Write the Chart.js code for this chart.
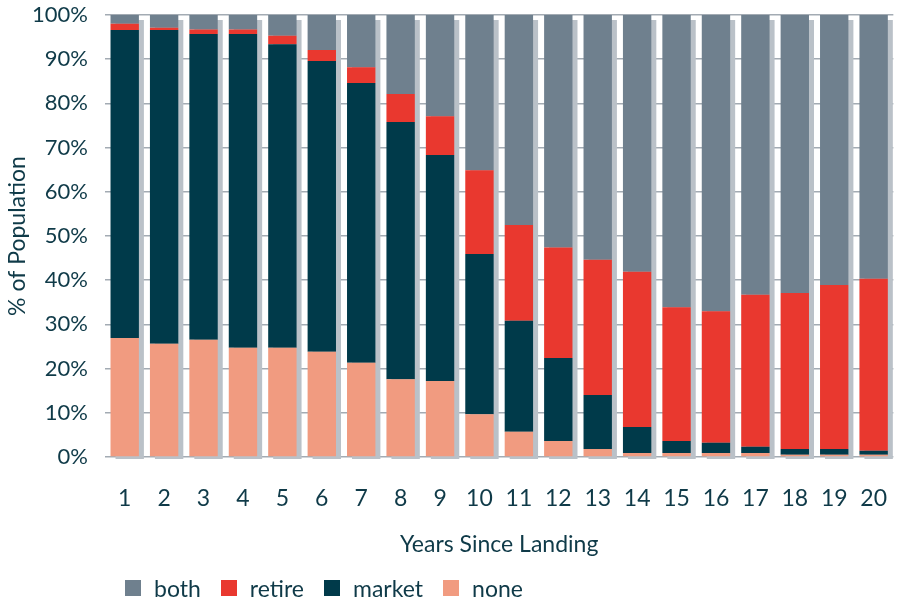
<!DOCTYPE html>
<html>
<head>
<meta charset="utf-8">
<script src="https://cdn.jsdelivr.net/npm/chart.js@4/dist/chart.umd.min.js"></script>
<style>
  html, body { margin: 0; padding: 0; background: #fff; overflow: hidden; }
  #wrap { position: relative; width: 915px; height: 602px; }
  #legend {
    position: absolute; left: 125px; top: 574px;
    display: flex; align-items: center;
    font-family: Lato, sans-serif; font-size: 23px; color: #0f3a48;
  }
  #legend .item { display: flex; align-items: center; margin-right: 20px; }
  #legend .box { width: 16px; height: 16px; margin-right: 13px; }
</style>
</head>
<body>
<div id="wrap">
  <canvas id="chart" width="915" height="602"></canvas>
  <div id="legend"></div>
</div>
<script>
// Categorías y series (% de población)
const years = ['1','2','3','4','5','6','7','8','9','10','11','12','13','14','15','16','17','18','19','20'];
const noneVals   = [26.9, 25.6, 26.5, 24.7, 24.7, 23.8, 21.3, 17.6, 17.2, 9.7, 5.7, 3.6, 1.8, 0.9, 0.9, 0.9, 0.9, 0.5, 0.5, 0.5];
const marketVals = [69.7, 71.0, 69.2, 71.0, 68.7, 65.8, 63.3, 58.2, 51.1, 36.2, 25.1, 18.8, 12.2, 5.9, 2.7, 2.3, 1.4, 1.3, 1.3, 0.9];
const retireVals = [1.4, 0.5, 1.0, 1.0, 1.9, 2.5, 3.6, 6.3, 8.8, 19.0, 21.7, 25.0, 30.6, 35.1, 30.3, 29.8, 34.4, 35.3, 37.1, 38.9];
const bothVals   = [2.0, 2.9, 3.3, 3.3, 4.7, 7.9, 11.8, 17.9, 22.9, 35.1, 47.5, 52.6, 55.4, 58.1, 66.1, 67.0, 63.3, 62.9, 61.1, 59.7];
const yTicks = [0, 10, 20, 30, 40, 50, 60, 70, 80, 90, 100];

const TEXT = '#0f3a48';
const FONT = 'Lato, sans-serif';

// sombra gris detrás de cada columna
const barShadow = {
    id: 'barShadow',
    beforeDatasetsDraw(chart) {
        const ctx = chart.ctx;
        const area = chart.chartArea;
        const bottomMeta = chart.getDatasetMeta(0);
        const topMeta = chart.getDatasetMeta(chart.data.datasets.length - 1);
        ctx.save();
        ctx.beginPath();
        ctx.rect(area.left, area.top, area.right - area.left, area.bottom - area.top + 2);
        ctx.clip();
        ctx.fillStyle = '#bac1c8';
        topMeta.data.forEach((bar, i) => {
            const base = bottomMeta.data[i].base;
            ctx.fillRect(bar.x - bar.width / 2 + 5, bar.y + 5, bar.width, base - bar.y);
        });
        ctx.restore();
    }
};

const datasets = [
    { label: 'none',   data: noneVals,   backgroundColor: '#f19b80' },
    { label: 'market', data: marketVals, backgroundColor: '#003a4a' },
    { label: 'retire', data: retireVals, backgroundColor: '#e9382f' },
    { label: 'both',   data: bothVals,   backgroundColor: '#6f808e' }
];

new Chart(document.getElementById('chart').getContext('2d'), {
    type: 'bar',
    data: {
        labels: years,
        datasets: datasets.map(d => ({ ...d, barPercentage: 0.72, categoryPercentage: 1.0, borderWidth: 0 }))
    },
    plugins: [barShadow],
    options: {
        responsive: false,
        animation: false,
        layout: { padding: { top: 15, right: 1, bottom: 44, left: 0 } },
        plugins: { legend: { display: false }, tooltip: { enabled: false } },
        scales: {
            x: {
                stacked: true,
                afterFit: scale => { scale.height = 101; },
                grid: { display: false, drawTicks: false },
                border: { display: false },
                ticks: { color: TEXT, font: { family: FONT, size: 23 }, padding: 28, maxRotation: 0, autoSkip: false },
                title: {
                    display: true, text: 'Years Since Landing', color: TEXT,
                    font: { family: FONT, size: 23 }, padding: { top: 0, bottom: 0 }
                }
            },
            y: {
                stacked: true,
                min: 0, max: 100,
                afterBuildTicks: scale => { scale.ticks = yTicks.map(v => ({ value: v })); },
                afterFit: scale => { scale.width = 105; scale.paddingTop = 0; scale.paddingBottom = 0; },
                grid: { color: '#a3abb3', lineWidth: 1.5, drawTicks: false },
                border: { display: false },
                ticks: { color: TEXT, font: { family: FONT, size: 22 }, padding: 17, callback: v => v + '%' },
                title: {
                    display: true, text: '% of Population', color: TEXT,
                    font: { family: FONT, size: 23 }, padding: { top: 4, bottom: 0 }
                }
            }
        }
    }
});

// leyenda en HTML (orden inverso al apilado)
const legend = document.getElementById('legend');
datasets.slice().reverse().forEach(d => {
    const item = document.createElement('div');
    item.className = 'item';
    item.innerHTML = '<span class="box" style="background:' + d.backgroundColor + '"></span><span>' + d.label + '</span>';
    legend.appendChild(item);
});
</script>
</body>
</html>
